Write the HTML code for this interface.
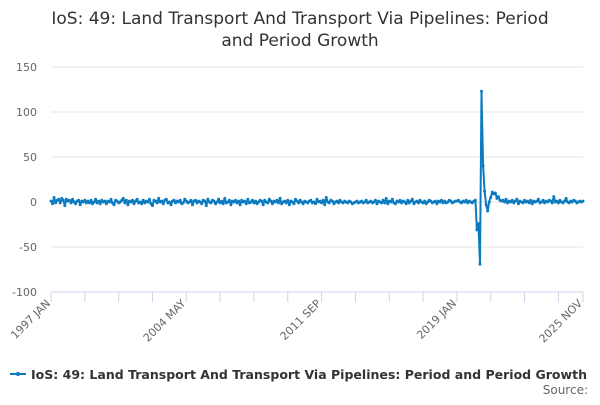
<!DOCTYPE html>
<html><head><meta charset="utf-8"><style>
body{margin:0;background:#fff;font-family:"Liberation Sans","DejaVu Sans",sans-serif}
svg text{font-family:"DejaVu Sans","Liberation Sans",sans-serif}
</style></head><body>
<svg id="c" width="600" height="400" xmlns="http://www.w3.org/2000/svg">
<text x="300" y="24" text-anchor="middle" font-size="17" fill="#333">IoS: 49: Land Transport And Transport Via Pipelines: Period</text>
<text x="300" y="46" text-anchor="middle" font-size="17" fill="#333">and Period Growth</text>
<g id="grid"></g><g id="xaxis"></g><g id="series"></g>
<g>
<line x1="10" y1="374" x2="26" y2="374" stroke="#0a7bc1" stroke-width="2"/>
<circle cx="18" cy="374" r="2" fill="#0a7bc1"/>
<text x="31" y="379" font-size="12.5" font-weight="bold" fill="#333" textLength="556" lengthAdjust="spacingAndGlyphs">IoS: 49: Land Transport And Transport Via Pipelines: Period and Period Growth</text>
</g>
<text x="588" y="394" text-anchor="end" font-size="12" fill="#666">Source:</text>
</svg>
<script>
const yTicks=[150,100,50,0,-50,-100];
const xLabels=["1997 JAN","2004 MAY","2011 SEP","2019 JAN","2025 NOV"];
const xLabelIdx=[0,88,176,264,346];
const values=[
1,-2,5,-1,2,3,-1,4,2,-4,3,1, 2,-1,3,0,-2,1,2,-3,1,0,2,-1,
1,-1,2,-2,0,3,-1,1,-2,2,0,1, -2,1,0,3,-1,-3,2,1,-1,0,2,4,
-1,2,-3,1,0,2,-2,1,3,-1,0,-2, 2,-1,1,0,3,-2,-4,2,1,-1,4,0,
1,-2,2,3,-1,0,-3,1,2,-1,1,0, 2,-2,-1,3,1,-1,0,2,-3,1,2,-1,
1,0,-2,2,1,-4,3,0,-1,2,1,-2, 0,3,-1,1,-2,4,-1,0,2,-3,1,0,
2,-1,1,-3,2,0,1,-2,3,-1,0,2, -1,1,-2,0,2,1,-3,2,0,-1,3,1,
-2,1,0,2,-1,4,-2,0,1,-1,2,-3, 1,0,-2,3,1,-1,2,0,-2,1,0,-1,
1,2,-1,0,-2,3,0,1,-1,2,-3,5, 0,-1,2,1,-2,0,1,-1,2,0,-1,1,
0,-1,1,0,-2,-1,0,1,-1,0,1,-1, 0,2,-1,0,1,-1,0,2,-2,1,0,-1,
2,-1,4,-2,1,0,3,-1,-2,1,0,2, -1,1,0,-2,2,-1,1,3,-2,0,1,-1,
2,0,-1,1,-2,0,2,1,-1,0,1,-2, 1,0,2,-1,1,-1,0,2,1,-1,0,1,
1,2,0,-1,1,0,2,-1,1,0,-1,1,2,
-31,-24,-69,123,40,12,-3,-10,0,5,11,9,10,4,6,2,
1,2,0,3,-1,1,0,2,-1,1,3,-2,1,0,-1,2,0,1,-1,2,-2,1,0,1,
3,-1,0,2,-1,1,0,2,1,-1,6,0,1,-1,2,0,-1,1,4,0,-1,1,0,2,
1,-1,0,1,0,1
];
const yMin=-100,yMax=150,L=51,R=583,T=67,B=292;
const nPts=values.length;
const X=i=>L+i*(R-L)/(nPts-1);
const Y=v=>B-(v-yMin)/(yMax-yMin)*(B-T);
const NS="http://www.w3.org/2000/svg";
const mk=(t,a,p)=>{const e=document.createElementNS(NS,t);for(const k in a)e.setAttribute(k,a[k]);p.appendChild(e);return e;};
const grid=document.getElementById('grid'),xa=document.getElementById('xaxis'),ser=document.getElementById('series');
yTicks.forEach(t=>{
 if(t!==yMin){const l=mk('line',{x1:L,x2:R,y1:Y(t),y2:Y(t),stroke:'#e6e6e6'},grid);
 
 }
 const tx=mk('text',{x:37,y:Y(t)+4,'text-anchor':'end','font-size':11,fill:'#666'},grid);
 tx.textContent=t;
 
 
});
const ax=mk('line',{x1:L,x2:R,y1:B,y2:B,stroke:'#ccd6eb'},xa);


for(let i=0;i<nPts;i+=22){mk('line',{x1:X(i),x2:X(i),y1:B,y2:B+10,stroke:'#ccd6eb'},xa);}
mk('line',{x1:X(nPts-1),x2:X(nPts-1),y1:B,y2:B+10,stroke:'#ccd6eb'},xa);
xLabels.forEach((s,k)=>{
 const x=X(xLabelIdx[k]),y=B+12;
 const t=mk('text',{x:x,y:y,'text-anchor':'end','font-size':11,fill:'#666',transform:`rotate(-45 ${x} ${y})`},xa);
 t.textContent=s;
 
 
});
const d=values.map((v,i)=>(i?'L':'M')+X(i).toFixed(1)+' '+Y(v).toFixed(1)).join('');
const p=mk('path',{d:d,fill:'none',stroke:'#0a7bc1','stroke-width':2,'stroke-linejoin':'round'},ser);


values.forEach((v,i)=>{const c=mk('circle',{cx:X(i),cy:Y(v),r:1.5,fill:'#0a7bc1'},ser);
 
 });
</script>
</body></html>
